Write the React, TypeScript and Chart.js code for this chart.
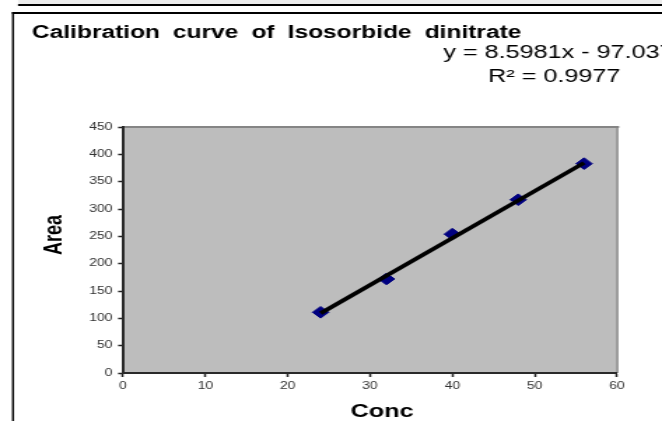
import React, { useEffect, useRef } from 'react';
import { Chart, registerables } from 'chart.js';

Chart.register(...registerables);

// ---- data ----
const concentrations = [24, 32, 40, 48, 56];
const areas = [111, 172, 254, 317, 383];
const trendSlope = 8.5981;
const trendIntercept = -97.037;
const xTickValues = [0, 10, 20, 30, 40, 50, 60];
const yTickValues = [0, 50, 100, 150, 200, 250, 300, 350, 400, 450];
const titleText = 'Calibration curve of Isosorbide dinitrate';
const equationText = 'y = 8.5981x - 97.037';
const r2Text = 'R² = 0.9977';
const xAxisTitle = 'Conc';
const yAxisTitle = 'Area';

// ---- layout (reference image is horizontally stretched ~1.4x) ----
const VIEW_W = 662;
const VIEW_H = 421;
const INNER_W = 473;
const SX = VIEW_W / INNER_W;
const FONT = "'Liberation Sans', Arial, Helvetica, sans-serif";

const decorPlugin = {
  id: 'excelDecor',
  beforeDraw(chart: any) {
    const { ctx, chartArea, width, height } = chart;
    ctx.save();
    ctx.fillStyle = '#ffffff';
    ctx.fillRect(0, 0, width, height);
    // top light strip + black rule
    ctx.fillStyle = '#ededed';
    ctx.fillRect(18 / SX, 0, width, 4);
    ctx.fillStyle = '#000000';
    ctx.fillRect(18 / SX, 4, width, 2);
    // chart frame
    ctx.fillRect(12 / SX, 12, 2 / SX, height);
    ctx.fillRect(12 / SX, 12, width, 2);
    // plot area
    ctx.fillStyle = '#bdbdbd';
    ctx.fillRect(chartArea.left, chartArea.top, chartArea.right - chartArea.left, chartArea.bottom - chartArea.top);
    // top & right plot border
    ctx.fillStyle = '#858585';
    ctx.fillRect(chartArea.left, chartArea.top - 1, chartArea.right - chartArea.left + 1.5, 2);
    ctx.fillRect(chartArea.right - 0.5, chartArea.top - 1, 2 / SX, chartArea.bottom - chartArea.top + 1);
    ctx.restore();
  },
  afterDraw(chart: any) {
    const { ctx } = chart;
    ctx.save();
    ctx.fillStyle = '#000000';
    ctx.textBaseline = 'alphabetic';
    // title
    ctx.font = `bold 17.5px ${FONT}`;
    ctx.textAlign = 'left';
    try { (ctx as any).wordSpacing = '4.5px'; } catch (e) {}
    ctx.fillText(titleText, 32 / SX, 37.5);
    try { (ctx as any).wordSpacing = '0px'; } catch (e) {}
    // trendline equation
    ctx.font = `18px ${FONT}`;
    ctx.textAlign = 'center';
    ctx.fillText(equationText, 399, 58);
    ctx.fillText(r2Text, 396, 82);
    // axis titles
    ctx.font = `bold 18px ${FONT}`;
    ctx.fillText(xAxisTitle, 382 / SX, 417);
    ctx.translate(62 / SX, 235);
    ctx.rotate(-Math.PI / 2);
    ctx.fillText(yAxisTitle, 0, 0);
    ctx.restore();
  },
};

export default function App() {
  const canvasRef = useRef<HTMLCanvasElement | null>(null);

  useEffect(() => {
    if (!canvasRef.current) return;
    const points = concentrations.map((c, i) => ({ x: c, y: areas[i] }));
    const xMin = Math.min(...concentrations);
    const xMax = Math.max(...concentrations);
    const trend = [
      { x: xMin, y: trendSlope * xMin + trendIntercept },
      { x: xMax, y: trendSlope * xMax + trendIntercept },
    ];
    const yScaleWidth = 30;
    const xScaleHeight = 25;
    const chart = new Chart(canvasRef.current, {
      type: 'scatter',
      data: {
        datasets: [
          {
            type: 'line',
            label: 'Linear trend',
            data: trend,
            borderColor: '#000000',
            borderWidth: 3.7,
            pointRadius: 0,
            fill: false,
            order: 0,
          } as any,
          {
            type: 'scatter',
            label: yAxisTitle,
            data: points,
            pointStyle: 'rectRot',
            pointRadius: 5.8,
            backgroundColor: '#000080',
            borderColor: '#000080',
            borderWidth: 1,
            order: 1,
          } as any,
        ],
      },
      options: {
        animation: false,
        responsive: true,
        maintainAspectRatio: false,
        devicePixelRatio: 1,
        layout: {
          padding: {
            left: 123 / SX - yScaleWidth,
            right: INNER_W - 617 / SX,
            top: 127,
            bottom: VIEW_H - 373 - xScaleHeight,
          },
        },
        plugins: {
          legend: { display: false },
          tooltip: { enabled: false },
          title: { display: false },
        },
        scales: {
          x: {
            type: 'linear',
            min: xTickValues[0],
            max: xTickValues[xTickValues.length - 1],
            afterFit: (s: any) => { s.height = xScaleHeight; },
            ticks: {
              stepSize: xTickValues[1] - xTickValues[0],
              color: '#333333',
              font: { family: FONT, size: 10 },
              padding: 3,
              maxRotation: 0,
            },
            grid: {
              display: true,
              drawOnChartArea: false,
              drawTicks: true,
              tickLength: 4,
              tickColor: '#222222',
              tickWidth: 1.5,
            },
            border: { display: true, color: '#2a2a2a', width: 2 },
          },
          y: {
            type: 'linear',
            min: yTickValues[0],
            max: yTickValues[yTickValues.length - 1],
            afterFit: (s: any) => { s.width = yScaleWidth; },
            ticks: {
              stepSize: yTickValues[1] - yTickValues[0],
              color: '#333333',
              font: { family: FONT, size: 10 },
              padding: 4,
            },
            grid: {
              display: true,
              drawOnChartArea: false,
              drawTicks: true,
              tickLength: 3.5,
              tickColor: '#222222',
              tickWidth: 1.5,
            },
            border: { display: true, color: '#2a2a2a', width: 2 },
          },
        },
      },
      plugins: [decorPlugin],
    });
    return () => chart.destroy();
  }, []);

  return (
    <div style={{ position: 'absolute', left: 0, top: 0, width: VIEW_W, height: VIEW_H, overflow: 'hidden', background: '#fff' }}>
      <div style={{ width: INNER_W, height: VIEW_H, transform: `scaleX(${SX})`, transformOrigin: '0 0' }}>
        <canvas ref={canvasRef} />
      </div>
    </div>
  );
}
